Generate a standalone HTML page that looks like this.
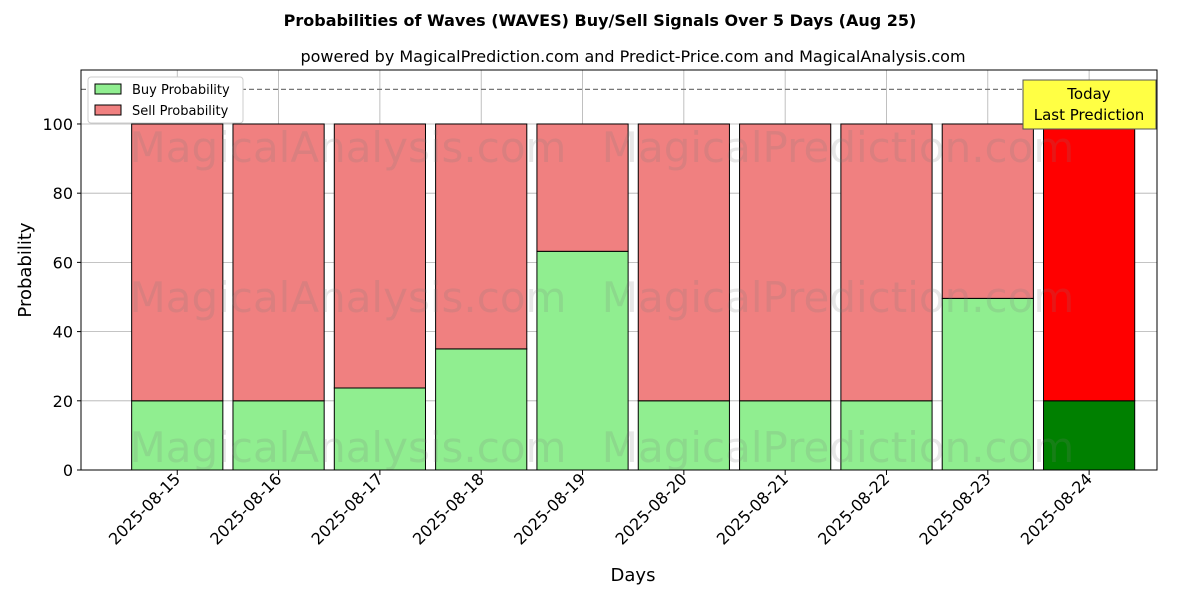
<!DOCTYPE html>
<html><head><meta charset="utf-8"><style>
body{margin:0;background:#fff;font-family:"Liberation Sans","DejaVu Sans",sans-serif}
svg text{font-family:"DejaVu Sans","Liberation Sans",sans-serif}
</style></head><body>
<svg id="chart" width="1200" height="600" xmlns="http://www.w3.org/2000/svg">
<rect width="1200" height="600" fill="#fff"/>
<text x="600" y="26" text-anchor="middle" font-size="16" font-weight="bold">Probabilities of Waves (WAVES) Buy/Sell Signals Over 5 Days (Aug 25)</text>
<text x="633" y="62" text-anchor="middle" font-size="16">powered by MagicalPrediction.com and Predict-Price.com and MagicalAnalysis.com</text>
<g id="grid"></g><g id="bars"></g><g id="wm"></g><g id="axes"></g>
<text x="633" y="581" text-anchor="middle" font-size="18">Days</text>
<text transform="translate(31,270) rotate(-90)" text-anchor="middle" font-size="18">Probability</text>
<g>
<rect x="88" y="77" width="155" height="46" fill="#fff" stroke="#ccc" rx="3"/>
<rect x="95" y="84" width="26" height="10" fill="#90ee90" stroke="#000"/>
<text x="132" y="94" font-size="13">Buy Probability</text>
<rect x="95" y="105" width="26" height="10" fill="#f08080" stroke="#000"/>
<text x="132" y="115" font-size="13">Sell Probability</text>
</g>
<g>
<rect x="1023" y="80" width="133" height="49" fill="#ffff44" stroke="#555"/>
<text x="1089" y="99" text-anchor="middle" font-size="15">Today</text>
<text x="1089" y="120" text-anchor="middle" font-size="15">Last Prediction</text>
</g>
</svg>
<script>
const categories=["2025-08-15","2025-08-16","2025-08-17","2025-08-18","2025-08-19","2025-08-20","2025-08-21","2025-08-22","2025-08-23","2025-08-24"];
const buyValues=[20,20,23.7,35,63.2,20,20,20,49.6,20];
const sellValues=[80,80,76.3,65,36.8,80,80,80,50.4,80];
const yTicks=[0,20,40,60,80,100];
const NS="http://www.w3.org/2000/svg";
const L=81,R=1157,T=70,B=470;
const xMin=-0.95,xMax=9.67,yMin=0,yMax=115.6;
const xs=v=>L+(v-xMin)/(xMax-xMin)*(R-L);
const ys=v=>B-(v-yMin)/(yMax-yMin)*(B-T);
function mk(tag,attrs,parent){const e=document.createElementNS(NS,tag);for(const k in attrs)e.setAttribute(k,attrs[k]);document.getElementById(parent).appendChild(e);return e;}
yTicks.forEach(t=>{
 const g=mk('line',{x1:L,x2:R,y1:ys(t),y2:ys(t),stroke:'#b0b0b0','stroke-width':0.8},'grid');
 
 
 mk('line',{x1:L-4,x2:L,y1:ys(t),y2:ys(t),stroke:'#000'},'axes');
 const tx=mk('text',{x:L-8,y:ys(t)+6,'text-anchor':'end','font-size':16},'axes');tx.textContent=t;
 
 
});
categories.forEach((c,i)=>{
 const g=mk('line',{x1:xs(i),x2:xs(i),y1:T,y2:B,stroke:'#b0b0b0','stroke-width':0.8},'grid');
 
 
});
const hl=mk('line',{x1:L,x2:R,y1:ys(110),y2:ys(110),stroke:'#777','stroke-dasharray':'5,3','stroke-width':1.2},'grid');


const w=0.9;
categories.forEach((c,i)=>{
 const last=i===categories.length-1;
 const x0=xs(i-w/2),bw=xs(i+w/2)-xs(i-w/2);
 const b=mk('rect',{x:x0,y:ys(buyValues[i]),width:bw,height:ys(0)-ys(buyValues[i]),fill:last?'#008000':'#90ee90',stroke:'#000','stroke-width':1},'bars');
 
 
 const s=mk('rect',{x:x0,y:ys(buyValues[i]+sellValues[i]),width:bw,height:ys(buyValues[i])-ys(buyValues[i]+sellValues[i]),fill:last?'#ff0000':'#f08080',stroke:'#000','stroke-width':1},'bars');
 
 
 mk('line',{x1:xs(i),x2:xs(i),y1:B,y2:B+5,stroke:'#000'},'axes');
 const tx=mk('text',{'text-anchor':'end','font-size':16,transform:`translate(${xs(i)+4},${B+10}) rotate(-45)`},'axes');tx.textContent=c;
 
 
});
const wms=[[348,148,'MagicalAnalysis.com'],[838,148,'MagicalPrediction.com'],[348,298,'MagicalAnalysis.com'],[838,298,'MagicalPrediction.com'],[348,448,'MagicalAnalysis.com'],[838,448,'MagicalPrediction.com']];
wms.forEach(m=>{const t=mk('text',{x:m[0],y:m[1]+14,'text-anchor':'middle','font-size':42,fill:'rgba(120,120,120,0.18)'},'wm');t.textContent=m[2];
 
 });
const fr=mk('rect',{x:L,y:T,width:R-L,height:B-T,fill:'none',stroke:'#000','stroke-width':1},'axes');


</script>
</body></html>
